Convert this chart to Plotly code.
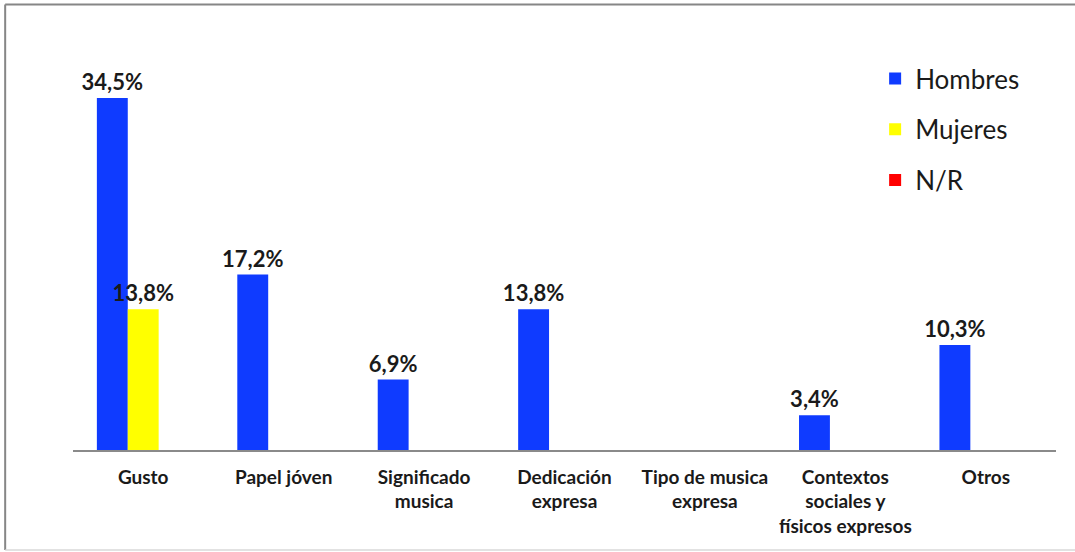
import plotly.graph_objects as go

categorias = ["Gusto", "Papel jóven", "Significado<br>musica", "Dedicación<br>expresa",
              "Tipo de musica<br>expresa", "Contextos<br>sociales y<br>físicos expresos", "Otros"]
hombres = [34.5, 17.2, 6.9, 13.8, None, 3.4, 10.3]
mujeres = [13.8, None, None, None, None, None, None]
nr = [None, None, None, None, None, None, None]

series = [("Hombres", hombres, "#0f3bff"), ("Mujeres", mujeres, "#ffff00"), ("N/R", nr, "#ff0000")]

fig = go.Figure()
for nombre, valores, color in series:
    fig.add_trace(go.Bar(x=categorias, y=valores, name=nombre, legendgroup=nombre,
                         marker=dict(color=color, line=dict(width=0)),
                         texttemplate="%{y:.1f}%", textposition="outside",
                         constraintext="none",
                         textfont=dict(family="Lato", size=22, color="#1a1a1a", weight="bold"),
                         cliponaxis=False))

fig.update_layout(
    width=1075, height=552,
    barmode="group", bargap=0.34, bargroupgap=0,
    separators=",.",
    paper_bgcolor="white", plot_bgcolor="white",
    margin=dict(l=73, r=19, t=42, b=102),
    font=dict(family="Lato", color="#1a1a1a"),
    legend=dict(x=0.816, y=0.968, xanchor="left", yanchor="top",
                font=dict(family="Lato", size=26, color="#1a1a1a"),
                tracegroupgap=14, bgcolor="rgba(0,0,0,0)"),
)
fig.update_xaxes(showline=True, linecolor="#8a8a8a", linewidth=1.5, ticks="",
                 tickfont=dict(family="Lato", size=19, color="#1a1a1a", weight="bold"),
                 ticklabelstandoff=9, showgrid=False)
fig.update_yaxes(visible=False, range=[0, 40], showgrid=False)

# marco del gráfico
fig.add_shape(type="line", xref="paper", yref="paper", x0=-0.069, x1=1.03, y0=1.092, y1=1.092,
              line=dict(color="#868686", width=2))
fig.add_shape(type="line", xref="paper", yref="paper", x0=-0.069, x1=-0.069, y0=1.092, y1=-0.245,
              line=dict(color="#868686", width=2))
fig.add_shape(type="line", xref="paper", yref="paper", x0=-0.069, x1=1.03, y0=-0.245, y1=-0.245,
              line=dict(color="#d9d9d9", width=1.5))

fig.write_html("out.html", config={"displayModeBar": False},
               post_script="document.body.style.margin='0';document.body.style.overflow='hidden';")
